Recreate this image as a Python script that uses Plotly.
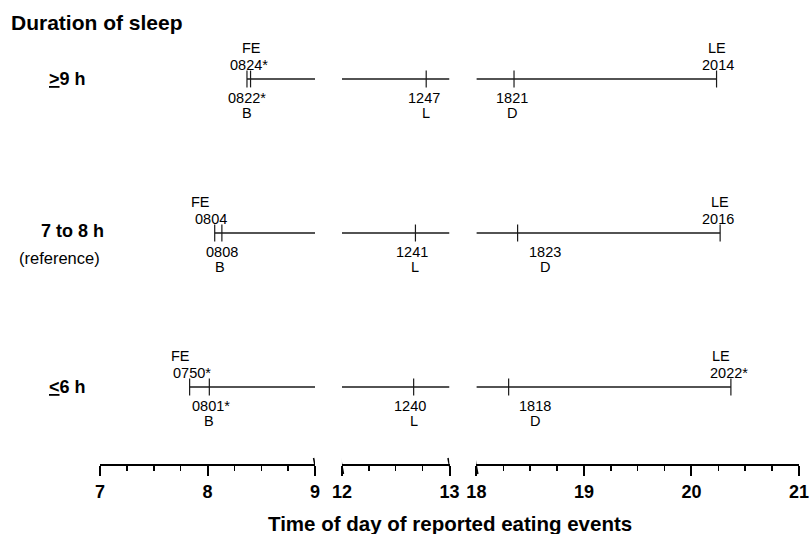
import plotly.graph_objects as go

# ---------------- data ----------------
groups = ["≥9 h", "7 to 8 h", "≤6 h"]
row_labels = ["<b><u>&gt;</u>9 h</b>", "<b>7 to 8 h</b>", "<b><u>&lt;</u>6 h</b>"]
row_sub = ["", "(reference)", ""]
row_pos = [3, 2, 1]

# clock times (hhmm) of eating events per group
fe_time = ["0824", "0804", "0750"]
b_time = ["0822", "0808", "0801"]
l_time = ["1247", "1241", "1240"]
d_time = ["1821", "1823", "1818"]
le_time = ["2014", "2016", "2022"]

# significance markers
fe_star = ["*", "", "*"]
b_star = ["*", "", "*"]
l_star = ["", "", ""]
d_star = ["", "", ""]
le_star = ["", "", "*"]

# broken axis segments (hours)
seg_ranges = [(7, 9), (12, 13), (18, 21)]
seg_ticks = [[7, 8, 9], [12, 13], [18, 19, 20, 21]]

# ---------------- style ----------------
FONT = "Liberation Sans, Arial, sans-serif"
# label nudges in pixels (code line, time line) per event per row
nudge = {
    "FE": [(1, -2), (-14, -4), (-9, 2)],
    "B": [(0, 0), (-2, 0), (0, 2)],
    "L": [(0, -2), (0, -3), (0, -4)],
    "D": [(-2, -2), (27, 27), (26, 26)],
    "LE": [(0, 1), (0, -2), (-10, -2)],
}


def hrs(t):
    return int(t[:2]) + int(t[2:]) / 60.0


def seg_of(h):
    for i, (a, b) in enumerate(seg_ranges):
        if a - 1 <= h <= b + 1:
            return i
    return 0


axis_names = ["x", "x2", "x3"]

# domains: equal pixels per hour, gaps of a quarter hour
gap = 0.25
total = sum(b - a for a, b in seg_ranges) + gap * (len(seg_ranges) - 1)
domains = []
pos = 0.0
for a, b in seg_ranges:
    d0 = pos / total
    pos += b - a
    domains.append([d0, pos / total])
    pos += gap

fig = go.Figure()

line_col = "#1a1a1a"


def label(x, y, ax, text, yshift, xshift):
    fig.add_annotation(x=x, y=y, xref=ax, yref="y", text=text,
                       showarrow=False, yanchor="middle", xanchor="center",
                       yshift=yshift, xshift=xshift,
                       font=dict(family=FONT, size=14.5, color="black"))


for r in range(3):
    y = row_pos[r]
    fe, b, l, d, le = (hrs(fe_time[r]), hrs(b_time[r]), hrs(l_time[r]),
                       hrs(d_time[r]), hrs(le_time[r]))
    start = min(fe, b)
    end = le
    # horizontal lines
    xs_segs = [[start, seg_ranges[0][1]], [seg_ranges[1][0], seg_ranges[1][1]],
               [seg_ranges[2][0], end]]
    for i, xs in enumerate(xs_segs):
        fig.add_trace(go.Scatter(x=xs, y=[y, y], mode="lines",
                                 line=dict(color=line_col, width=1.5),
                                 xaxis=axis_names[i], yaxis="y",
                                 showlegend=False, hoverinfo="skip"))
    # event ticks
    events = [(fe, "FE", fe_time[r] + fe_star[r], "above"),
              (b, "B", b_time[r] + b_star[r], "below"),
              (l, "L", l_time[r] + l_star[r], "below"),
              (d, "D", d_time[r] + d_star[r], "below"),
              (le, "LE", le_time[r] + le_star[r], "above")]
    for h, code, txt, where in events:
        si = seg_of(h)
        ax = axis_names[si]
        fig.add_trace(go.Scatter(x=[h], y=[y], mode="markers",
                                 marker=dict(symbol="line-ns", size=12,
                                             line=dict(color=line_col, width=1.2)),
                                 xaxis=ax, yaxis="y", showlegend=False,
                                 hoverinfo="skip"))
        nc, nt = nudge[code][r]
        if where == "above":
            label(h, y, ax, code, 31, nc)
            label(h, y, ax, txt, 14, nt)
        else:
            label(h, y, ax, txt, -19, nt)
            label(h, y, ax, code, -34, nc)

    # row labels
    fig.add_annotation(x=0, y=y, xref="paper", yref="y", text=row_labels[r],
                       showarrow=False, xanchor="center",
                       xshift=(-28 if row_sub[r] else -33),
                       yshift=(2 if row_sub[r] else 0),
                       font=dict(family=FONT, size=18, color="black"))
    if row_sub[r]:
        fig.add_annotation(x=0, y=y, xref="paper", yref="y", text=row_sub[r],
                           showarrow=False, xanchor="center", xshift=-41,
                           yshift=-25,
                           font=dict(family=FONT, size=16.5, color="black"))

# axes
layout_axes = {}
for i, ((a, b), ticks) in enumerate(zip(seg_ranges, seg_ticks)):
    key = "xaxis" if i == 0 else f"xaxis{i + 1}"
    layout_axes[key] = dict(
        domain=domains[i], range=[a, b], anchor="y",
        showline=True, linecolor="black", linewidth=2,
        showgrid=False, zeroline=False,
        ticks="outside", ticklen=10, tickwidth=2, tickcolor="black",
        tickvals=ticks, ticktext=[str(t) for t in ticks],
        tickfont=dict(family=FONT, size=18, color="black", weight="bold"),
        minor=dict(dtick=0.25, tick0=a, ticks="outside", ticklen=5,
                   tickwidth=1.5, tickcolor="black", showgrid=False),
        fixedrange=True,
    )

# axis break marks at inner segment ends
for i, (a, b) in enumerate(seg_ranges):
    ax = axis_names[i]
    ends = []
    if i > 0:
        ends.append(a)
    if i < len(seg_ranges) - 1:
        ends.append(b)
    for e in ends:
        fig.add_shape(type="line", xref=ax, yref="paper",
                      xsizemode="pixel", xanchor=e, x0=-1.5, x1=1.5,
                      ysizemode="pixel", yanchor=0, y0=6, y1=-10,
                      line=dict(color="black", width=1.5))

fig.add_annotation(x=0, y=1, xref="paper", yref="paper",
                   text="<b>Duration of sleep</b>", showarrow=False,
                   xanchor="left", xshift=-91, yanchor="middle", yshift=-20,
                   font=dict(family=FONT, size=21, color="black"))
fig.add_annotation(x=0.5, y=0, xref="paper", yref="paper",
                   text="<b>Time of day of reported eating events</b>",
                   showarrow=False, xanchor="center", yanchor="middle",
                   yshift=-59,
                   font=dict(family=FONT, size=20.5, color="black"))

fig.update_layout(
    width=811, height=534,
    margin=dict(l=100, r=8, t=2, b=70),
    paper_bgcolor="white", plot_bgcolor="white",
    yaxis=dict(range=[0.5, 3.5], visible=False, fixedrange=True),
    showlegend=False,
    **layout_axes,
)

fig.write_html("out.html",
               config={"displayModeBar": False, "staticPlot": True},
               post_script="document.body.style.margin='0';"
                           "document.body.style.overflow='hidden';")
